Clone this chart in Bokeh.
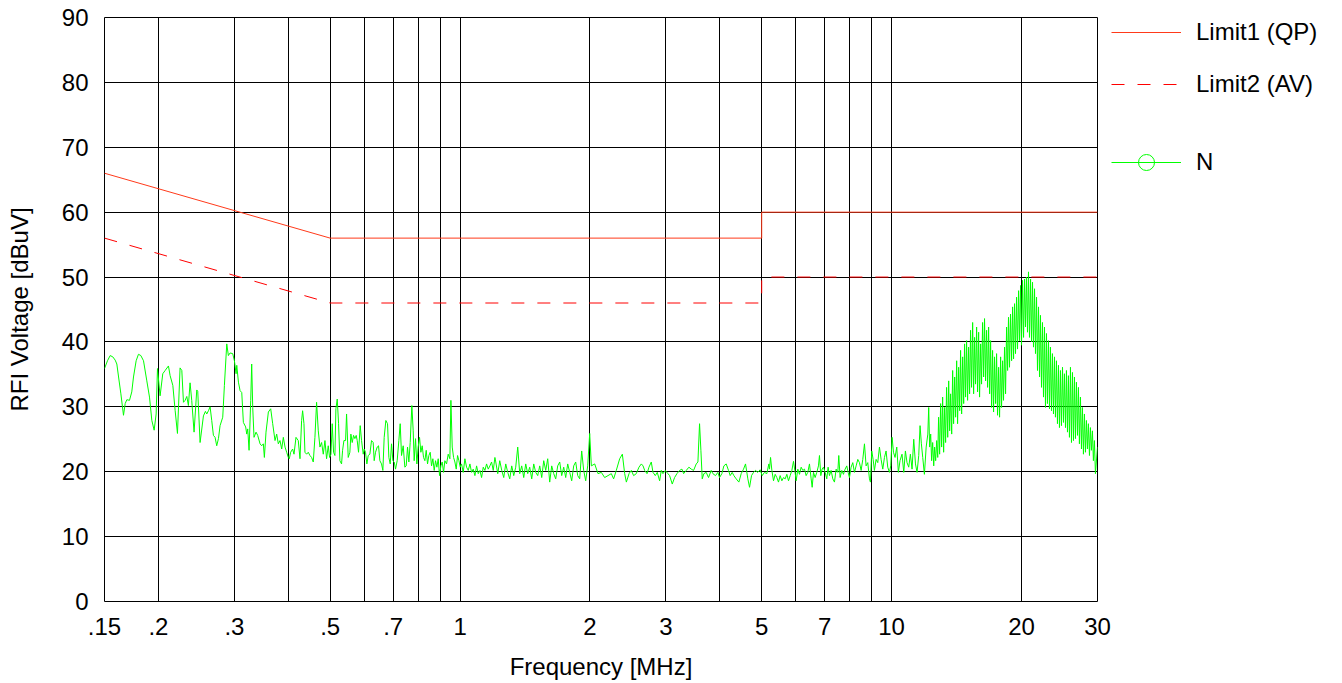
from bokeh.plotting import figure
from bokeh.layouts import row
from bokeh.models import Range1d, FixedTicker, Legend, LegendItem
from bokeh.embed import file_html
from bokeh.resources import INLINE

FONT = "Liberation Sans"

# ---------------- axes / ticks ----------------
x_tick_values = [0.15, 0.2, 0.3, 0.5, 0.7, 1, 2, 3, 5, 7, 10, 20, 30]
x_tick_labels = [".15", ".2", ".3", ".5", ".7", "1", "2", "3", "5", "7", "10", "20", "30"]
x_grid_values = [0.2, 0.3, 0.4, 0.5, 0.6, 0.7, 0.8, 0.9, 1, 2, 3, 4, 5, 6, 7, 8, 9, 10, 20]
y_ticks = [0, 10, 20, 30, 40, 50, 60, 70, 80, 90]

# ---------------- limit lines ----------------
limit_freq = [0.15, 0.5, 5, 5, 30]
limit1_level = [66, 56, 56, 60, 60]
limit2_level = [56, 46, 46, 50, 50]

freq_a = [0.150, 0.1524, 0.1546, 0.1568, 0.1588, 0.1602, 0.1617, 0.1637, 0.1660, 0.1675,
          0.1690, 0.1714, 0.1735, 0.1751, 0.1776, 0.1798, 0.1821, 0.1847, 0.1880, 0.1907,
          0.1931, 0.1955, 0.1976, 0.1990, 0.2018, 0.2047, 0.2073, 0.2110, 0.2129, 0.2160,
          0.2187, 0.2214, 0.2245, 0.2266, 0.2286, 0.2306, 0.2327, 0.2347, 0.2368, 0.2389,
          0.2419, 0.2454, 0.2467, 0.2498, 0.2543, 0.2570, 0.2589, 0.2612, 0.2635, 0.2658,
          0.2682, 0.2706, 0.2730, 0.2755, 0.2779, 0.2819, 0.2844, 0.2880, 0.2905, 0.2931,
          0.2973, 0.3000, 0.3027, 0.3038, 0.3065, 0.3092, 0.3120, 0.3147, 0.3186, 0.3204,
          0.3221, 0.3244, 0.3273, 0.3290, 0.3308, 0.3331, 0.3367, 0.3397, 0.3440, 0.3470,
          0.3501, 0.3520, 0.3551, 0.3596, 0.3641, 0.3680, 0.3726, 0.3759, 0.3792, 0.3826,
          0.3861, 0.3895, 0.3930, 0.3965, 0.4000, 0.4021, 0.4050, 0.4093, 0.4123, 0.4167,
          0.4218, 0.4257]
level_a = [35.9, 37.1, 37.9, 37.7, 37.2, 36.6, 34.6, 32.0, 28.7, 30.5,
           31.1, 31.0, 32.3, 34.6, 37.1, 38.1, 37.9, 37.1, 34.0, 31.5,
           27.9, 26.4, 28.9, 35.9, 31.7, 35.1, 35.6, 36.3, 34.8, 33.3,
           29.4, 25.9, 36.0, 35.6, 30.7, 31.0, 31.6, 30.2, 33.7, 31.0,
           26.1, 32.6, 32.4, 24.5, 28.6, 29.3, 28.9, 29.4, 30.0, 27.9,
           25.6, 25.3, 24.0, 25.1, 27.1, 28.4, 33.3, 39.7, 37.9, 38.3,
           38.2, 37.1, 35.1, 36.4, 33.8, 32.5, 32.2, 27.6, 26.9, 25.8,
           26.6, 23.3, 31.0, 36.6, 29.9, 25.3, 26.1, 25.6, 24.3, 24.0,
           24.3, 22.2, 26.1, 29.2, 29.7, 27.4, 24.8, 25.8, 24.3, 24.8,
           23.5, 25.3, 23.8, 23.0, 22.2, 22.0, 23.0, 23.5, 22.7, 25.3,
           24.8, 22.0]

freq_b = [0.4294, 0.4317, 0.4348, 0.4371, 0.4410, 0.4449, 0.4489, 0.4529, 0.4569, 0.4610,
          0.4651, 0.4693, 0.4735, 0.4777, 0.4820, 0.4863, 0.4906, 0.4950, 0.4985, 0.5021,
          0.5056, 0.5092, 0.5129, 0.5156, 0.5193, 0.5230, 0.5267, 0.5314, 0.5343, 0.5381,
          0.5429, 0.5458, 0.5506, 0.5555, 0.5585, 0.5625, 0.5665, 0.5705, 0.5746, 0.5777,
          0.5818, 0.5870, 0.5912, 0.5965, 0.5996, 0.6039, 0.6082, 0.6126, 0.6180, 0.6235,
          0.6291, 0.6325, 0.6370, 0.6427, 0.6473, 0.6519, 0.6577, 0.6624, 0.6671, 0.6731,
          0.6791, 0.6840, 0.6889, 0.6938, 0.6988, 0.7037, 0.7087, 0.7150, 0.7214, 0.7266,
          0.7318, 0.7383, 0.7449, 0.7502, 0.7556, 0.7610, 0.7664, 0.7732, 0.7788, 0.7829,
          0.7885, 0.7942, 0.7998, 0.8056, 0.8113, 0.8171, 0.8230, 0.8289, 0.8348, 0.8407,
          0.8467, 0.8528, 0.8589, 0.8650, 0.8712, 0.8774, 0.8837, 0.8900, 0.8964, 0.9028,
          0.9092, 0.9157, 0.9222, 0.9305, 0.9388, 0.9472, 0.9523, 0.9591, 0.9660, 0.9729,
          0.9798, 0.9868, 0.9939, 1.0009, 1.0081, 1.0171, 1.0262, 1.0354, 1.0447, 1.0540,
          1.0634, 1.0729, 1.0825, 1.0922, 1.1019, 1.1118, 1.1217, 1.1317, 1.1418, 1.1520,
          1.1623, 1.1727, 1.1831, 1.1937, 1.2044]
level_b = [27.9, 29.4, 27.4, 23.0, 22.7, 23.0, 22.5, 22.2, 21.5, 25.3,
           30.7, 26.3, 23.8, 24.5, 22.7, 24.8, 22.0, 24.0, 22.2, 22.7,
           27.4, 23.0, 22.5, 29.7, 31.2, 27.4, 21.7, 21.2, 23.3, 24.8,
           24.8, 28.9, 22.2, 23.0, 25.8, 24.5, 25.6, 25.1, 25.6, 24.8,
           23.0, 27.1, 24.8, 22.7, 23.5, 23.0, 21.2, 22.5, 22.7, 24.8,
           24.5, 21.7, 23.0, 23.8, 24.0, 21.7, 21.2, 20.2, 25.3, 27.9,
           27.4, 22.2, 21.2, 24.3, 21.7, 21.5, 20.4, 21.7, 24.8, 27.4,
           22.5, 24.0, 20.7, 20.9, 23.8, 21.5, 24.5, 30.2, 26.3, 21.7,
           25.1, 21.2, 23.8, 25.3, 23.0, 24.0, 22.2, 21.7, 23.3, 21.2,
           22.5, 23.0, 20.9, 22.0, 20.2, 21.7, 20.7, 22.0, 19.4, 20.9,
           21.5, 19.9, 21.7, 21.2, 22.7, 22.0, 31.0, 23.8, 22.2, 21.5,
           20.4, 22.5, 21.7, 20.7, 21.2, 19.9, 22.0, 20.7, 20.2, 21.2,
           19.9, 20.4, 19.4, 20.9, 19.7, 20.2, 19.1, 20.7, 20.2, 21.2,
           20.4, 20.9, 21.5, 20.2, 22.2]

freq_c = [1.2099, 1.2228, 1.2359, 1.2491, 1.2625, 1.2761, 1.2897, 1.3036, 1.3175, 1.3316,
          1.3459, 1.3603, 1.3750, 1.3896, 1.4046, 1.4196, 1.4349, 1.4502, 1.4658, 1.4815,
          1.4974, 1.5135, 1.5297, 1.5461, 1.5627, 1.5795, 1.5963, 1.6134, 1.6308, 1.6483,
          1.6659, 1.6838, 1.7019, 1.7201, 1.7386, 1.7572, 1.7761, 1.7951, 1.8143, 1.8337,
          1.8534, 1.8734, 1.8934, 1.9137, 1.9342, 1.9549, 1.9759, 1.9971,
          2.0148, 2.0511, 2.0877, 2.1251, 2.1630, 2.2021, 2.2414, 2.2691, 2.3017, 2.3437,
          2.3773, 2.4070, 2.4287, 2.4635, 2.4942, 2.5245, 2.5607, 2.5975, 2.6312, 2.6547,
          2.6784, 2.7120, 2.7399, 2.7741, 2.7992, 2.8341, 2.8643, 2.9002, 2.9263, 2.9521,
          2.9890, 3.0320, 3.0593, 3.1027, 3.1415, 3.1809, 3.2267, 3.2670, 3.2964, 3.3430,
          3.3910, 3.4334, 3.4763, 3.5262, 3.5579, 3.5892, 3.6149, 3.6408, 3.6729, 3.7188,
          3.7653, 3.8195, 3.8539, 3.9084, 3.9573, 3.9930, 4.0430, 4.0861, 4.1372, 4.1890,
          4.2267, 4.2717, 4.3102, 4.3641, 4.4268, 4.4822, 4.5383, 4.5867, 4.6441, 4.6859,
          4.7358, 4.7863, 4.8373, 4.8978, 4.9591, 5.0130, 5.0757, 5.1392, 5.1940]
level_c = [21.5, 19.7, 21.7, 20.2, 19.1, 21.2, 19.9, 18.9, 20.9, 19.4,
           20.7, 23.8, 19.7, 20.9, 19.1, 21.2, 19.7, 20.7, 18.9, 21.2,
           19.9, 19.4, 20.9, 19.1, 21.7, 20.2, 22.0, 18.4, 20.9, 19.7,
           18.9, 20.9, 21.5, 19.4, 20.7, 19.1, 21.2, 19.9, 18.6, 20.9,
           21.5, 19.4, 18.9, 23.2, 20.2, 18.6, 20.9, 25.9,
           20.9, 21.2, 19.7, 19.9, 19.1, 19.4, 19.7, 18.9, 20.2, 22.0,
           22.7, 19.7, 18.4, 19.7, 20.2, 19.4, 19.7, 20.7, 21.2, 20.9,
           20.2, 19.7, 20.7, 21.5, 19.9, 19.4, 19.9, 18.6, 20.2, 19.7,
           20.2, 19.7, 19.4, 18.1, 19.1, 19.7, 20.2, 20.4, 19.7, 20.2,
           20.7, 20.4, 20.2, 21.2, 21.5, 27.4, 23.3, 18.9, 19.7, 19.9,
           19.1, 20.2, 19.7, 19.4, 19.9, 19.1, 19.7, 20.9, 21.2, 20.2,
           19.4, 19.9, 19.4, 18.9, 18.4, 19.7, 20.4, 21.2, 18.9, 17.6,
           19.4, 19.9, 20.2, 19.9, 20.3, 19.4, 19.9, 19.7, 21.2]

freq_d = [5.213, 5.242, 5.279, 5.326, 5.373, 5.421, 5.469, 5.518, 5.568, 5.618,
          5.668, 5.718, 5.769, 5.821, 5.873, 5.925, 5.967, 6.010, 6.063, 6.117,
          6.172, 6.227, 6.283, 6.338, 6.395, 6.452, 6.510, 6.545, 6.591, 6.650,
          6.709, 6.769, 6.805, 6.854, 6.902, 6.951, 7.014, 7.076, 7.127, 7.178,
          7.241, 7.307, 7.372, 7.438, 7.504, 7.544, 7.598, 7.666, 7.734, 7.803,
          7.873, 7.930, 7.986, 8.057, 8.129, 8.202, 8.276, 8.349, 8.424, 8.499,
          8.575, 8.652, 8.728, 8.806, 8.885, 8.932, 8.995, 9.062, 9.124, 9.207,
          9.289, 9.372, 9.455, 9.540, 9.626, 9.709, 9.796, 9.886, 9.954, 10.028,
          10.100, 10.186, 10.280, 10.368, 10.459, 10.571, 10.671, 10.764, 10.858, 10.957,
          11.054, 11.153, 11.254, 11.359, 11.455, 11.558, 11.640, 11.722, 11.808, 11.912,
          12.025, 12.132]
level_d = [20.4, 22.2, 20.2, 18.6, 19.6, 19.1, 18.4, 19.4, 18.6, 19.1,
           18.9, 19.6, 18.6, 19.4, 20.2, 21.6, 20.2, 18.6, 20.4, 19.6,
           20.7, 20.2, 20.4, 19.4, 19.9, 21.2, 18.9, 17.6, 19.9, 19.1,
           19.9, 20.9, 22.5, 19.4, 20.4, 20.7, 19.9, 18.9, 20.7, 19.4,
           20.2, 18.9, 18.4, 20.4, 19.9, 22.5, 19.1, 20.2, 19.6, 20.4,
           20.9, 19.9, 19.1, 20.7, 21.4, 19.9, 20.9, 21.9, 21.4, 20.2,
           21.9, 24.3, 20.9, 21.4, 18.9, 18.4, 23.2, 21.9, 20.2, 21.9,
           21.4, 23.8, 21.9, 20.4, 22.2, 23.2, 20.7, 19.9, 20.9, 25.3,
           23.0, 22.2, 23.8, 19.9, 21.7, 22.7, 19.9, 23.2, 21.4, 20.7,
           22.7, 20.4, 25.0, 21.2, 19.9, 22.5, 27.1, 24.3, 22.2, 19.6,
           23.8, 25.8]

freq_e = [12.19, 12.25, 12.32, 12.38, 12.45, 12.52, 12.58, 12.65, 12.72, 12.79,
          12.85, 12.92, 12.99, 13.06, 13.13, 13.20, 13.27, 13.34, 13.41, 13.49,
          13.56, 13.63, 13.70, 13.78, 13.85, 13.92, 14.00, 14.07, 14.15, 14.22,
          14.30, 14.38, 14.45, 14.53, 14.61, 14.69, 14.76, 14.84, 14.92, 15.00,
          15.08, 15.16, 15.24, 15.32, 15.41, 15.49, 15.57, 15.65, 15.74, 15.82,
          15.91, 15.99, 16.08, 16.16, 16.25, 16.34, 16.42, 16.51, 16.60, 16.69,
          16.78, 16.87, 16.96, 17.05, 17.14, 17.23, 17.32, 17.42, 17.51, 17.60,
          17.70, 17.79, 17.89, 17.98, 18.08, 18.17, 18.27, 18.37, 18.47, 18.57,
          18.66, 18.76, 18.86, 18.97, 19.07, 19.17, 19.27, 19.37, 19.48, 19.58,
          19.69, 19.79, 19.90, 20.00, 20.11, 20.22, 20.33, 20.43, 20.54, 20.65,
          20.76, 20.87, 20.99, 21.10, 21.21, 21.32, 21.44, 21.55, 21.67, 21.78,
          21.90, 22.02, 22.13, 22.25, 22.37, 22.49, 22.61, 22.73, 22.85, 22.97,
          23.10, 23.22, 23.34, 23.47, 23.59, 23.72, 23.85, 23.97, 24.10, 24.23,
          24.36, 24.49, 24.62, 24.75, 24.89, 25.02, 25.15, 25.29, 25.42, 25.56,
          25.69, 25.83, 25.97, 26.11, 26.25, 26.39, 26.53, 26.67, 26.81, 26.96,
          27.10, 27.24, 27.39, 27.54, 27.68, 27.83, 27.98, 28.13, 28.28, 28.43,
          28.58, 28.74, 28.89, 29.04, 29.20, 29.35, 29.51, 29.67, 30.00]
level_e = [29.9, 23.8, 25.8, 21.7, 24.5, 20.9, 23.8, 21.7, 24.8, 22.2,
           28.4, 22.7, 30.5, 23.8, 31.5, 23.0, 29.9, 24.5, 33.0, 25.3,
           34.0, 26.3, 32.0, 25.8, 35.6, 27.4, 34.6, 28.4, 37.1, 27.4,
           36.1, 29.4, 38.7, 28.9, 37.7, 30.5, 39.7, 31.5, 40.2, 31.0,
           39.2, 32.0, 41.8, 33.0, 43.0, 32.0, 40.7, 33.5, 42.3, 32.3,
           41.5, 31.5, 39.7, 33.5, 43.0, 34.6, 43.6, 34.0, 41.8, 33.0,
           42.3, 32.0, 40.2, 29.9, 38.7, 29.2, 37.7, 30.5, 38.2, 28.7,
           36.1, 28.4, 37.7, 29.9, 37.1, 31.0, 39.2, 32.0, 42.3, 35.6,
           43.8, 36.1, 44.3, 37.1, 45.4, 37.4, 45.9, 38.2, 46.9, 38.9,
           47.9, 40.2, 48.7, 39.5, 49.5, 40.7, 49.7, 42.3, 50.0, 41.5,
           50.8, 40.7, 49.7, 40.0, 49.2, 39.2, 48.2, 38.2, 46.9, 35.6,
           45.4, 34.6, 44.1, 33.0, 43.0, 31.5, 42.3, 29.9, 41.3, 30.5,
           40.2, 29.7, 39.2, 29.4, 38.2, 28.9, 37.7, 28.4, 37.1, 27.4,
           36.4, 26.8, 35.6, 27.1, 36.1, 27.6, 35.1, 26.8, 35.6, 26.1,
           34.8, 25.3, 36.1, 24.5, 35.3, 24.8, 34.6, 25.1, 33.8, 25.6,
           33.0, 24.3, 31.5, 23.5, 29.9, 22.7, 28.9, 23.0, 27.9, 23.5,
           27.4, 22.5, 26.8, 23.3, 26.3, 21.7, 24.8, 19.7, 23.8]

freq_n = freq_a + freq_b + freq_c + freq_d + freq_e
level_n = level_a + level_b + level_c + level_d + level_e

legend_labels = ["Limit1 (QP)", "Limit2 (AV)", "N"]

LIMIT1_COLOR = "#ff3a1a"
LIMIT2_COLOR = "#ff0000"
N_COLOR = "#00ff00"

# ---------------- main figure ----------------
p = figure(x_axis_type="log", x_range=Range1d(0.15, 30), y_range=Range1d(0, 90),
           frame_width=993, frame_height=584,
           min_border_left=104, min_border_right=14, min_border_top=17, min_border_bottom=40,
           output_backend="svg", toolbar_location=None)
p.background_fill_color = "white"
p.border_fill_color = "white"
p.outline_line_color = "black"
p.outline_line_width = 1
p.outline_line_alpha = 1

p.xaxis.ticker = FixedTicker(ticks=x_tick_values)
p.xaxis.major_label_overrides = dict(zip(x_tick_values, x_tick_labels))
p.yaxis.ticker = FixedTicker(ticks=y_ticks)
p.xgrid.ticker = FixedTicker(ticks=x_grid_values)
p.ygrid.ticker = FixedTicker(ticks=y_ticks)
for g in (p.xgrid, p.ygrid):
    g.grid_line_color = "black"
    g.grid_line_alpha = 1
    g.grid_line_width = 1

for ax in (p.xaxis, p.yaxis):
    ax.axis_line_color = None
    ax.major_tick_line_color = None
    ax.minor_tick_line_color = None
    ax.major_label_text_font = FONT
    ax.major_label_text_font_size = "24px"
    ax.major_label_text_color = "black"
    ax.axis_label_text_font = FONT
    ax.axis_label_text_font_size = "24px"
    ax.axis_label_text_font_style = "normal"
    ax.axis_label_text_color = "black"

p.xaxis.axis_label = "Frequency [MHz]"
p.yaxis.axis_label = "RFI Voltage [dBuV]"
p.xaxis.major_label_standoff = 10
p.xaxis.axis_label_standoff = 15
p.yaxis.major_label_standoff = 10
p.yaxis.axis_label_standoff = 26

p.line(limit_freq, limit1_level, line_color=LIMIT1_COLOR, line_width=1)
p.line(limit_freq, limit2_level, line_color=LIMIT2_COLOR, line_width=1, line_dash="13 13")
p.line(freq_n, level_n, line_color=N_COLOR, line_width=1)

# ---------------- legend panel (separate figure to the right) ----------------
lg = figure(width=225, height=600, x_range=Range1d(-1, 0), y_range=Range1d(-1, 0),
            x_axis_location=None, y_axis_location=None, min_border=0, title=None,
            outline_line_color=None, toolbar_location=None, output_backend="svg")
lg.grid.visible = False
lg.background_fill_color = "white"
lg.border_fill_color = "white"

# proxies: same data, lying outside this panel's ranges (only their legend swatches show)
q1 = lg.line(limit_freq, limit1_level, line_color=LIMIT1_COLOR, line_width=1)
q2 = lg.line(limit_freq, limit2_level, line_color=LIMIT2_COLOR, line_width=1,
             line_dash="13 13")
qn = lg.line(freq_n, level_n, line_color=N_COLOR, line_width=1)
qm = lg.scatter(freq_n, level_n, marker="circle", size=16, line_color=N_COLOR,
                fill_color=None, line_width=1)

common = dict(glyph_width=70, label_standoff=15, padding=0, margin=0,
              label_text_font=FONT, label_text_font_size="24px", label_text_color="black",
              label_text_baseline="middle",
              border_line_color=None, background_fill_alpha=0)

leg_a = Legend(items=[LegendItem(label=legend_labels[0], renderers=[q1]),
                      LegendItem(label=legend_labels[1], renderers=[q2])],
               location=(0, 421.5), glyph_height=28, label_height=28, spacing=24, **common)
leg_b = Legend(items=[LegendItem(label=legend_labels[2], renderers=[qn, qm])],
               location=(0, 337), glyph_height=40, label_height=40, spacing=0, **common)
lg.add_layout(leg_a)
lg.add_layout(leg_b)

layout = row(p, lg)
open("out.html", "w").write(file_html(layout, INLINE))
